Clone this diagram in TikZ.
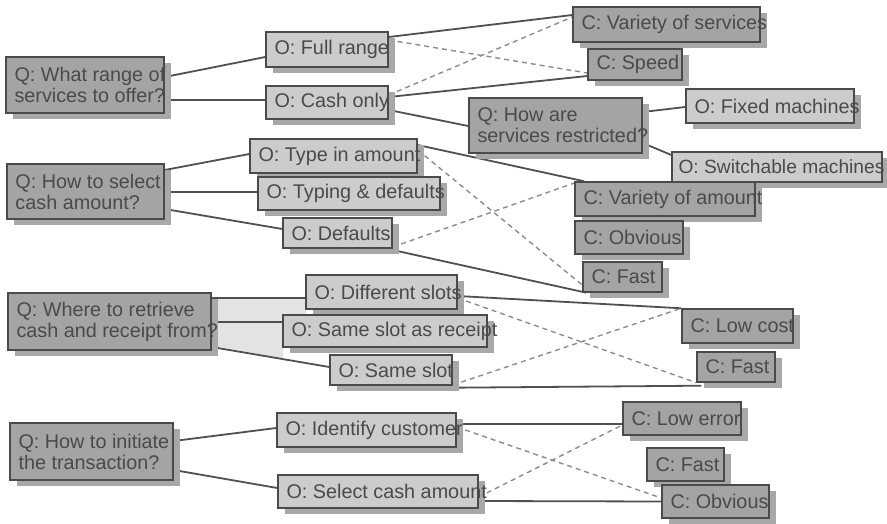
\documentclass[tikz,border=0pt]{standalone}
\usepackage{fontspec}
\setmainfont{Liberation Sans}
\usetikzlibrary{backgrounds,shadows}

\definecolor{ink}{HTML}{4A4A4A}
\definecolor{edge}{HTML}{4A4A4A}
\definecolor{darkfill}{HTML}{A4A4A4}
\definecolor{lightfill}{HTML}{CCCCCC}
\definecolor{shade}{HTML}{A8A8A8}
\definecolor{wire}{HTML}{505050}
\definecolor{altwire}{HTML}{8C8C8C}
\definecolor{haze}{HTML}{E3E3E3}

% box with its top-left and bottom-right corners given, text set flush left
\newcommand\qocbox[8][9pt]{%
  \node[#2, minimum width={(#6-#4)*1pt}, minimum height={(#7-#5)*1pt}]
    (#3) at ({(#4+#6)/2},{(#5+#7)/2}) {};
  \node[boxtext, anchor=west] (#3-text) at ([xshift=#1]#3.west) {#8};}

\begin{document}
\begin{tikzpicture}[x=1pt, y=-1pt,
  box/.style={draw=edge, line width=1.4pt, inner sep=0pt,
    general shadow={fill=shade, shadow xshift=7pt, shadow yshift=-6pt}},
  qbox/.style={box, fill=darkfill},
  cbox/.style={box, fill=darkfill},
  obox/.style={box, fill=lightfill},
  boxtext/.style={inner sep=0pt, align=left, text=ink,
    font=\fontsize{19.8}{21}\selectfont},
  link/.style={draw=wire, line width=1.8pt},
  alt/.style={draw=altwire, line width=1.4pt, dash pattern=on 5pt off 4pt}]

\useasboundingbox (0,0) rectangle (887,524);

% --- range of services
\qocbox{qbox}{q1}{6}{57}{164}{113}{Q: What range of\\services to offer?}
\qocbox{obox}{fr}{266}{32}{388}{67}{O: Full range}
\qocbox{obox}{co}{266}{86}{388}{119}{O: Cash only}
\qocbox{cbox}{cvs}{573}{7}{760}{42}{C: Variety of services}
\qocbox{cbox}{csp}{588}{49}{682}{80}{C: Speed}
\qocbox{qbox}{qr}{469}{98}{642}{153}{Q: How are\\services restricted?}
\qocbox{obox}{ofm}{686}{89}{854}{123}{O: Fixed machines}
\qocbox[7pt]{obox}{osm}{672}{152}{882}{182}{\fontsize{19.2}{21}\selectfont O: Switchable machines}

% --- cash amount
\qocbox{qbox}{q2}{7}{164}{164}{219}{Q: How to select\\cash amount?}
\qocbox{obox}{ota}{250}{139}{417}{173}{O: Type in amount}
\qocbox{obox}{otd}{258}{177}{440}{210}{O: Typing \& defaults}
\qocbox{obox}{od}{283}{218}{392}{248}{O: Defaults}
\qocbox{cbox}{cva}{575}{182}{755}{216}{C: Variety of amount}
\qocbox{cbox}{cob}{575}{221}{683}{254}{C: Obvious}
\qocbox{cbox}{cf}{583}{262}{662}{292}{C: Fast}

% --- cash and receipt slots
\qocbox{qbox}{q3}{8}{293}{211}{350}{Q: Where to retrieve\\cash and receipt from?}
\qocbox{obox}{ods}{306}{275}{457}{309}{O: Different slots}
\qocbox{obox}{osr}{283}{315}{487}{347}{O: Same slot as receipt}
\qocbox{obox}{oss}{330}{355}{452}{385}{O: Same slot}
\qocbox{cbox}{clc}{682}{309}{793}{343}{C: Low cost}
\qocbox{cbox}{cf2}{697}{352}{775}{382}{C: Fast}

% --- starting the transaction
\qocbox{qbox}{q4}{10}{423}{173}{480}{Q: How to initiate\\the transaction?}
\qocbox{obox}{oic}{277}{413}{456}{447}{O: Identify customer}
\qocbox{obox}{osc}{278}{475}{478}{508}{O: Select cash amount}
\qocbox{cbox}{cle}{623}{402}{741}{435}{C: Low error}
\qocbox{cbox}{cf3}{647}{448}{724}{481}{C: Fast}
\qocbox{cbox}{cob3}{662}{485}{769}{518}{C: Obvious}

\begin{scope}[on background layer]
  % pale band between the slot question and its options
  \fill[haze] (211,298) -- (306,298) -- (306,315) -- (283,315)
    -- (283,359) -- (220,347) -- (211,347) -- cycle;

  % options of each question
  \draw[link] ([yshift=8pt]q1.east) -- ([yshift=-7.5pt]fr.west);
  \draw[link] ([yshift=-15pt]q1.east) -- ([yshift=2.5pt]co.west);
  \draw[link] ([yshift=-7.5pt]co.east) -- ([yshift=-0.5pt]qr.west);
  \draw[link] ([yshift=13.5pt]qr.east) -- ([yshift=-1pt]ofm.west);
  \draw[link] ([yshift=-17.5pt]qr.east) -- ([yshift=12pt]osm.west);
  \draw[link] ([yshift=21.5pt]q2.east) -- ([yshift=2pt]ota.west);
  \draw[link] ([yshift=-0.5pt]q2.east) -- ([yshift=1.5pt]otd.west);
  \draw[link] ([yshift=-17.5pt]q2.east) -- ([yshift=4pt]od.west);
  \draw[link] ([yshift=23.5pt]q3.east) -- ([yshift=-6pt]ods.west);
  \draw[link] ([yshift=-0.5pt]q3.east) -- ([yshift=9pt]osr.west);
  \draw[link] ([yshift=-25.5pt]q3.east) -- ([yshift=3pt]oss.west);
  \draw[link] ([yshift=10.5pt]q4.east) -- ([yshift=2pt]oic.west);
  \draw[link] ([yshift=-18.5pt]q4.east) -- ([yshift=3.5pt]osc.west);

  % criteria: solid = supports, dashed = works against
  \draw[link] ([yshift=12.5pt]fr.east) -- ([yshift=9.5pt]cvs.west);
  \draw[alt]  ([yshift=9.5pt]fr.east) -- ([yshift=-8.5pt]csp.west);
  \draw[alt]  ([yshift=7.5pt]co.east) -- ([yshift=7.5pt]cvs.west);
  \draw[link] ([yshift=5.5pt]co.east) -- ([yshift=-11.5pt]csp.west);

  \draw[link] ([yshift=11pt]ota.east) -- ([xshift=10pt]cva.north west);
  \draw[alt]  ([yshift=6pt]ota.east) -- ([yshift=-8pt]cf.west);
  \draw[alt]  ([yshift=-14pt]od.east) -- ([yshift=16pt]cva.west);
  \draw[link] ([yshift=-17pt]od.east) -- ([xshift=4pt]cf.south west);

  \draw[link] ([yshift=-4pt]ods.east) -- (clc.north west);
  \draw[alt]  ([yshift=-6pt]ods.east) -- (cf2.south west);
  \draw[alt]  ([yshift=-15pt]oss.east) -- (clc.north west);
  \draw[link] ([yshift=-2pt]oss.south east) -- ([xshift=5pt,yshift=-3pt]cf2.south west);

  \draw[link] ([yshift=6pt]oic.east) -- ([yshift=-5.5pt]cle.west);
  \draw[alt]  ([yshift=3pt]oic.east) -- ([yshift=3.5pt]cob3.west);
  \draw[alt]  ([yshift=-5.5pt]osc.east) -- ([yshift=-6.5pt]cle.west);
  \draw[link] ([yshift=-9.5pt]osc.east) -- (cob3.west);
\end{scope}
\end{tikzpicture}
\end{document}
